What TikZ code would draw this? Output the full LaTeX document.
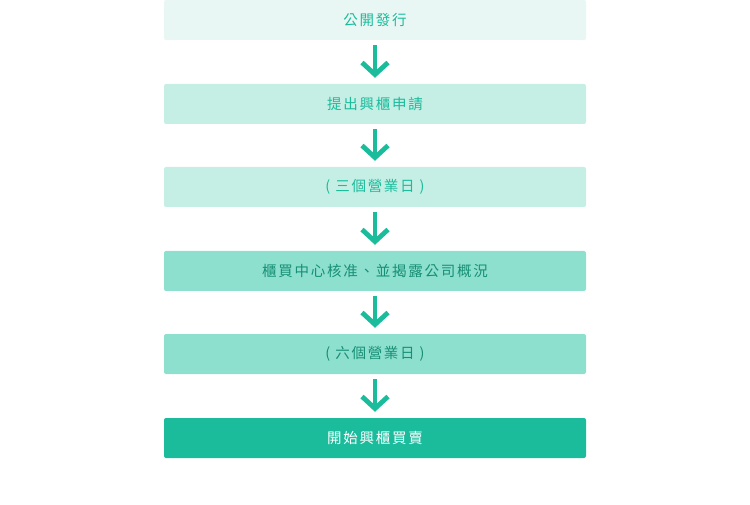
\documentclass[tikz,border=0pt]{standalone}
\usepackage{fontspec}
\newfontfamily\cjk[LetterSpace=12]{Noto Sans CJK TC}
\usetikzlibrary{arrows.meta}
\definecolor{qing}{HTML}{1ABC9C}
\definecolor{qingA}{HTML}{E8F7F3}
\definecolor{qingB}{HTML}{C5EEE4}
\definecolor{qingC}{HTML}{8DE0CE}
\definecolor{qingD}{HTML}{168F74}
\tikzset{
  liubox/.style={rounded corners=2pt, minimum width=422pt, minimum height=40pt,
    font=\cjk\fontsize{14.5pt}{16pt}\selectfont, inner sep=0pt},
  liuarrow/.style={draw=qing, line width=4.8pt, -{Straight Barb[length=12pt,width=26pt]}}
}
\begin{document}
\begin{tikzpicture}[x=1pt,y=-1pt]
        \useasboundingbox (0,0) rectangle (750,505);
        % 流程方框
        \node[liubox, fill=qingA, text=qing] (fx) at (375,20) {公開發行};
        \node[liubox, fill=qingB, text=qing] (sq) at (375,104) {提出興櫃申請};
        \node[liubox, fill=qingB, text=qing] (sr) at (375,187) {( 三個營業日 )};
        \node[liubox, fill=qingC, text=qingD] (hz) at (375,271) {櫃買中心核准、並揭露公司概況};
        \node[liubox, fill=qingC, text=qingD] (lr) at (375,354) {( 六個營業日 )};
        \node[liubox, fill=qing, text=white] (mm) at (375,438) {開始興櫃買賣};
        % 箭头
        \draw[liuarrow] ([yshift=-5pt]fx.south) -- ([yshift=6pt]sq.north);
        \draw[liuarrow] ([yshift=-5pt]sq.south) -- ([yshift=6pt]sr.north);
        \draw[liuarrow] ([yshift=-5pt]sr.south) -- ([yshift=6pt]hz.north);
        \draw[liuarrow] ([yshift=-5pt]hz.south) -- ([yshift=6pt]lr.north);
        \draw[liuarrow] ([yshift=-5pt]lr.south) -- ([yshift=6pt]mm.north);
    \end{tikzpicture}
\end{document}
